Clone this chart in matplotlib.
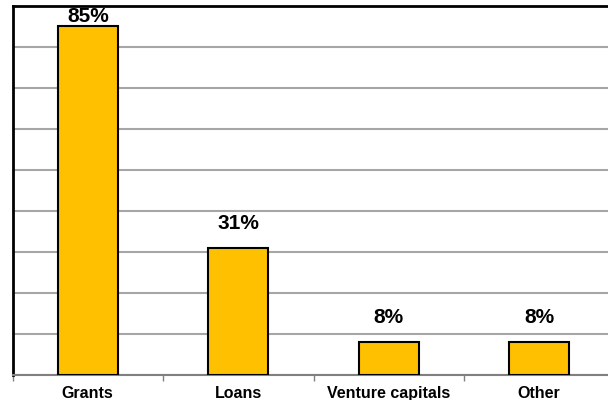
import matplotlib.pyplot as plt

categories = ["Grants", "Loans", "Venture capitals", "Other"]
shares = [85, 31, 8, 8]

plt.rcParams["font.family"] = ["Liberation Sans", "DejaVu Sans"]

fig = plt.figure(figsize=(6.08, 4.0), dpi=100)
ax = fig.add_axes([12.5 / 608, 25 / 400, 602 / 608, 369 / 400])

x = range(len(categories))
bars = ax.bar(x, shares, width=0.4, color="#FFC000", edgecolor="black",
              linewidth=1.5, zorder=3)

# labels sit above the bars, but stay inside the plot area at the top
for b, v in zip(bars, shares):
    ax.text(b.get_x() + b.get_width() / 2, min(v + 3.6, 85.0), f"{v}%",
            ha="center", va="bottom", fontsize=15, fontweight="bold", zorder=4)

ax.set_xlim(-0.5, len(categories) - 0.5)
ax.set_ylim(0, 90)
ax.set_yticks(range(0, 91, 10))
ax.yaxis.grid(True, color="#a6a6a6", linewidth=1.5, zorder=0)
ax.tick_params(axis="y", left=False, labelleft=False)

ax.set_xticks([i - 0.5 for i in range(len(categories) + 1)], minor=False)
ax.set_xticklabels([])
ax.set_xticks(list(x), minor=True)
ax.set_xticklabels(categories, minor=True, fontsize=11.5, fontweight="bold")
ax.tick_params(axis="x", which="major", direction="out", length=4,
               color="#808080", width=1)
ax.tick_params(axis="x", which="minor", length=0, pad=8)

ax.spines["bottom"].set_color("#808080")
ax.spines["bottom"].set_linewidth(1.5)
for s in ("top", "left", "right"):
    ax.spines[s].set_color("black")
    ax.spines[s].set_linewidth(2)

fig.savefig("out.png", dpi=100)
